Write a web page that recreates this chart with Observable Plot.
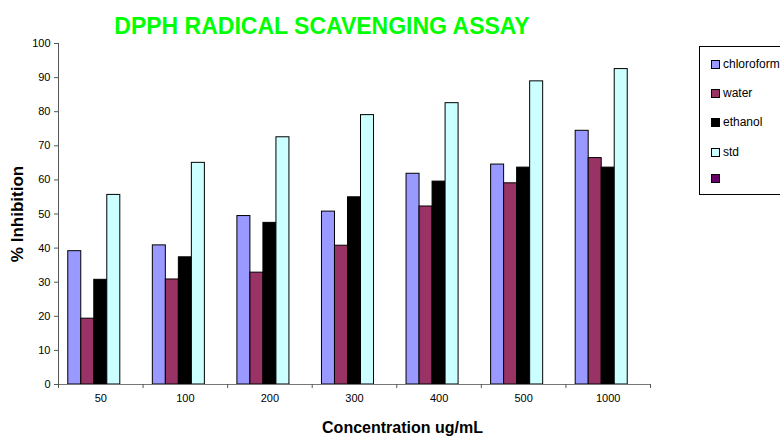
<!DOCTYPE html>
<html>
<head>
<meta charset="utf-8">
<script src="https://cdn.jsdelivr.net/npm/d3@7"></script>
<script src="https://cdn.jsdelivr.net/npm/@observablehq/plot@0.6"></script>
<style>
  body { margin: 0; background: #fff; font-family: Arial, "Liberation Sans", sans-serif; }
  #wrap { position: relative; width: 780px; height: 436px; overflow: hidden; }
  #title { position: absolute; left: 0; width: 644px; top: 13px; text-align: center; line-height: 26px;
           font: bold 23px Arial, "Liberation Sans", sans-serif; color: #00ff00; }
  #legend { position: absolute; left: 699px; top: 46px; width: 100px; height: 149px;
            border: 1px solid #000; background: #fff; box-sizing: border-box; }
  .item { position: absolute; left: 11px; font: 12px Arial, "Liberation Sans", sans-serif; color: #000;
          display: flex; align-items: center; white-space: nowrap; line-height: 14px; }
  .sw { width: 7px; height: 7px; border: 1px solid #000; margin-right: 3px; }
</style>
</head>
<body>
<div id="wrap">
  <div id="chart"></div>
  <div id="title">DPPH RADICAL SCAVENGING ASSAY</div>
  <div id="legend"></div>
</div>
<script>
const concentrations = ["50", "100", "200", "300", "400", "500", "1000"];
const seriesNames = ["chloroform", "water", "ethanol", "std", ""];
const seriesColors = ["#9999ff", "#993366", "#000000", "#ccffff", "#660066"];
const chloroform = [39.1, 40.8, 49.4, 50.7, 61.8, 64.5, 74.4];
const water      = [19.3, 30.8, 32.8, 40.7, 52.2, 59.0, 66.4];
const ethanol    = [30.7, 37.3, 47.4, 54.9, 59.5, 63.6, 63.6];
const std        = [55.6, 65.0, 72.5, 79.0, 82.5, 88.9, 92.5];
const yTicks = [0, 10, 20, 30, 40, 50, 60, 70, 80, 90, 100];

const seriesValues = [chloroform, water, ethanol, std];
const nSlots = 5, gap = 1.5, slot = 1 / (nSlots + gap);
const rows = [];
seriesValues.forEach((vals, j) => {
  vals.forEach((v, i) => {
    rows.push({
      series: seriesNames[j],
      x1: i + (gap / 2 + j) * slot,
      x2: i + (gap / 2 + j + 1) * slot,
      value: v
    });
  });
});
const boundaries = d3.range(concentrations.length + 1);
const centers = concentrations.map((c, i) => i + 0.5);

const chart = Plot.plot({
  width: 780,
  height: 436,
  marginLeft: 58,
  marginRight: 130,
  marginTop: 43,
  marginBottom: 52,
  style: { fontFamily: "Arial, 'Liberation Sans', sans-serif", fontSize: "11px", color: "#000" },
  x: { type: "linear", domain: [0, concentrations.length], axis: null },
  y: { domain: [0, 100], axis: null },
  color: { domain: seriesNames, range: seriesColors },
  marks: [
    Plot.rectY(rows, { x1: "x1", x2: "x2", y1: 0, y2: "value", fill: "series", stroke: "#000", strokeWidth: 1 }),
    Plot.ruleX([0], { y1: 0, y2: 100, stroke: "#555" }),
    Plot.ruleY([0], { stroke: "#777", strokeWidth: 1.2 }),
    Plot.axisY({ ticks: yTicks, tickSize: 4, tickPadding: 4, label: null, stroke: "#555", fontSize: 11 }),
    Plot.axisX({ ticks: boundaries, tickSize: 4, tickFormat: () => "", label: null, stroke: "#555" }),
    Plot.axisX({ ticks: centers, tickSize: 0, tickPadding: 10, tickFormat: (d) => concentrations[Math.floor(d)], label: null, fontSize: 11 }),
    Plot.text(["% Inhibition"], { frameAnchor: "left", textAnchor: "middle", lineAnchor: "middle", rotate: -90, dx: -41, dy: 0, fontWeight: "bold", fontSize: 17, fill: "#000" }),
    Plot.text(["Concentration ug/mL"], { frameAnchor: "bottom", lineAnchor: "bottom", dy: 48, dx: 48, fontWeight: "bold", fontSize: 16, fill: "#000" })
  ]
});
document.getElementById("chart").appendChild(chart);

const legend = document.getElementById("legend");
const legendTops = [10, 39, 68, 98, 127];
seriesNames.forEach((name, i) => {
  const it = document.createElement("div");
  it.className = "item";
  it.style.top = legendTops[i] + "px";
  const sw = document.createElement("span");
  sw.className = "sw";
  sw.style.background = seriesColors[i];
  it.appendChild(sw);
  const t = document.createElement("span");
  t.textContent = name;
  it.appendChild(t);
  legend.appendChild(it);
});
</script>
</body>
</html>
